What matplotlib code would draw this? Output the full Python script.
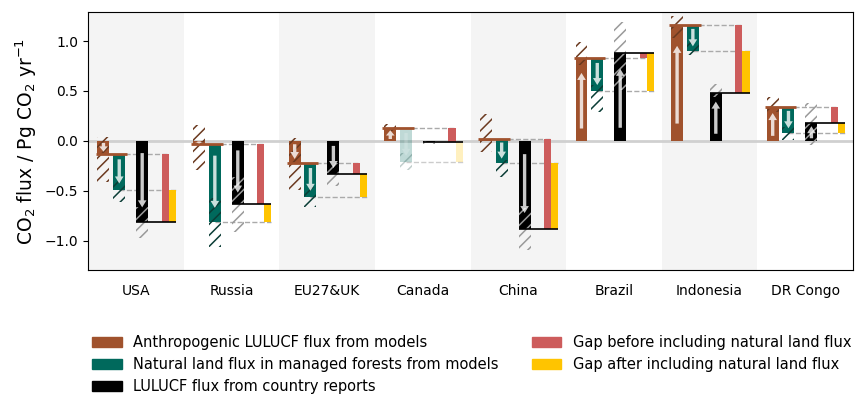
import matplotlib.pyplot as plt
from matplotlib.patches import Patch
import numpy as np

countries = ['USA', 'Russia', 'EU27&UK', 'Canada', 'China', 'Brazil', 'Indonesia', 'DR Congo']

# anthropogenic LULUCF flux from models (Pg CO2/yr) and model spread
anthro = [-0.13, -0.03, -0.22, 0.13, 0.02, 0.83, 1.16, 0.34]
anthro_lo = [-0.41, -0.29, -0.49, 0.10, -0.11, 0.76, 1.03, 0.29]
anthro_hi = [0.04, 0.16, 0.03, 0.17, 0.27, 0.99, 1.25, 0.44]

# natural land flux in managed forests, added on top of the anthropogenic flux
natural = [-0.36, -0.78, -0.34, -0.34, -0.24, -0.33, -0.26, -0.26]
natural_lo = [-0.48, -1.03, -0.44, -0.42, -0.38, -0.54, -0.30, -0.33]
natural_hi = [-0.26, -0.54, -0.24, -0.25, -0.21, -0.27, -0.15, -0.20]

# LULUCF flux from country reports and its range
reports = [-0.81, -0.63, -0.33, -0.013, -0.88, 0.88, 0.48, 0.18]
reports_lo = [-0.97, -0.91, -0.45, -0.03, -1.09, 0.51, 0.44, -0.04]
reports_hi = [-0.66, -0.36, -0.22, 0.0, -0.67, 1.19, 0.57, 0.38]

faded = {'Canada'}

BROWN = '#a0522d'
GREEN = '#00695c'
RED = '#cd5c5c'
YELLOW = '#ffc400'
GREY = '#aaaaaa'

plt.rcParams['hatch.linewidth'] = 1.1

off_b, off_g, off_k, off_r, off_y = -0.34, -0.175, 0.065, 0.305, 0.38
w, w2 = 0.125, 0.075

fig, ax = plt.subplots(figsize=(8.56, 3.94), dpi=100)
fig.subplots_adjust(left=0.103, right=0.9965, bottom=0.315, top=0.9695)

x = np.arange(len(countries))
for i in x[::2]:
    ax.axvspan(i - 0.5, i + 0.5, color='#f4f4f4', lw=0, zorder=0)
ax.axhline(0, color='#d0d0d0', lw=2, zorder=1)


def draw_arrow(xc, start, length, alpha=1.0):
    if abs(length) < 0.03:
        return
    s = start + 0.15 * length
    e = start + 0.82 * length
    hl = min(0.07, 0.6 * abs(e - s))
    ax.arrow(xc, s, 0, e - s, width=0.035, head_width=0.09, head_length=hl,
             length_includes_head=True, fc='white', ec='none', alpha=0.8 * alpha, zorder=5)


for i, c in enumerate(countries):
    a = anthro[i]
    an = a + natural[i]
    r = reports[i]
    na = 0.25 if c in faded else 1.0

    # dashed guides and report line
    ax.hlines(a, i + off_g + w / 2, i + off_r + w2 / 2, color=GREY, ls='--', lw=1, zorder=1.5)
    ax.hlines(an, i + off_g, i + off_y + w2 / 2, color=GREY, ls='--', lw=1, zorder=1.5, alpha=max(na, 0.6))

    ax.bar(i + off_b, a, w, color=BROWN, zorder=2)
    ax.bar(i + off_g, natural[i], w, bottom=a, color=GREEN, alpha=na, zorder=2)
    ax.bar(i + off_k, r, w, color='black', zorder=2)
    ax.bar(i + off_r, a - r, w2, bottom=r, color=RED, zorder=2)
    ax.bar(i + off_y, an - r, w2, bottom=r, color=YELLOW, alpha=na, zorder=2)

    # uncertainty ranges
    ax.bar(i + off_b, anthro_hi[i] - anthro_lo[i], w, bottom=anthro_lo[i], fill=False,
           hatch='///', edgecolor='#6b3a20', lw=0, zorder=3)
    ax.bar(i + off_g, natural_hi[i] - natural_lo[i], w, bottom=a + natural_lo[i], fill=False,
           hatch='///', edgecolor='#0b3d36', lw=0, alpha=na, zorder=3)
    ax.bar(i + off_k, reports_hi[i] - reports_lo[i], w, bottom=reports_lo[i], fill=False,
           hatch='///', edgecolor='#9a9a9a', lw=0, zorder=3)

    ax.hlines(a, i + off_b - w / 2 - 0.02, i + off_g + w / 2 + 0.02, color=BROWN, lw=2, zorder=4)
    ax.hlines(r, i + off_k - w / 2, i + off_y + w2 / 2, color='black', lw=1.2, zorder=4)

    draw_arrow(i + off_b, 0, a)
    draw_arrow(i + off_g, a, natural[i], na)
    draw_arrow(i + off_k, 0, r)

ax.set_xlim(-0.5, len(countries) - 0.5)
ax.set_ylim(-1.29, 1.29)
ax.set_yticks([-1.0, -0.5, 0.0, 0.5, 1.0])
ax.set_xticks(x, countries)
ax.tick_params(axis='x', length=0, pad=10, labelsize=10)
ax.tick_params(axis='y', labelsize=10)
ax.set_ylabel('CO$_2$ flux / Pg CO$_2$ yr$^{-1}$', fontsize=13.5)

handles = [Patch(color=BROWN, label='Anthropogenic LULUCF flux from models'),
           Patch(color=GREEN, label='Natural land flux in managed forests from models'),
           Patch(color='black', label='LULUCF flux from country reports'),
           Patch(color=RED, label='Gap before including natural land flux'),
           Patch(color=YELLOW, label='Gap after including natural land flux')]
fig.legend(handles=handles, ncol=2, loc='upper left', bbox_to_anchor=(0.108, 0.15),
           frameon=False, fontsize=10.5, borderpad=0, borderaxespad=0,
           columnspacing=2.3, labelspacing=0.5)

fig.savefig('out.png', dpi=100)
